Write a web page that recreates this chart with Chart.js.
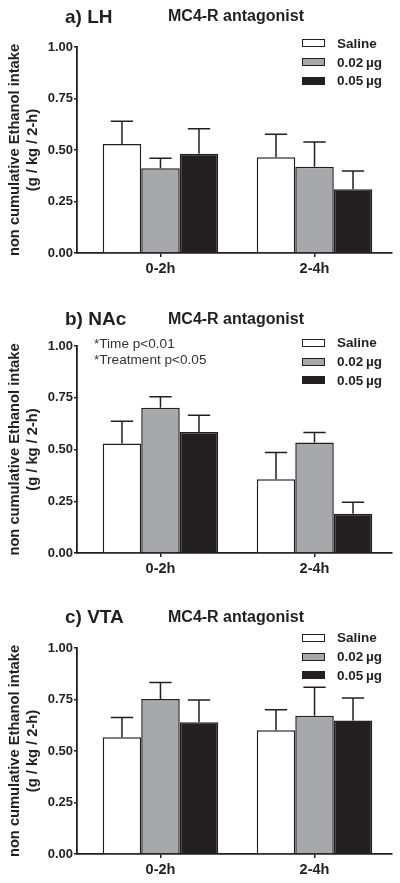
<!DOCTYPE html>
<html>
<head>
<meta charset="utf-8">
<script src="https://cdn.jsdelivr.net/npm/chart.js@4.4.1/dist/chart.umd.min.js"></script>
<style>
  body { margin: 0; background: #fff; font-family: "Liberation Sans", Arial, sans-serif; }
  #wrap { position: relative; width: 400px; height: 883px; overflow: hidden; }
  .panel { position: absolute; left: 0; width: 400px; }
  .panel canvas { position: absolute; left: 0; top: 0; }
  .lbl { position: absolute; font-weight: bold; color: #231f20; white-space: nowrap; line-height: 1; }
  .big { font-size: 19px; }
  .sub { font-size: 16px; }
  .note { position: absolute; font-size: 13.6px; color: #333; line-height: 16px; white-space: nowrap; }
  .legend { position: absolute; left: 302px; }
  .legend div { height: 18.7px; display: flex; align-items: center; font-weight: bold; font-size: 13.5px; color: #231f20; }
  .legend span.box { display: inline-block; width: 21px; height: 6px; border: 1px solid #231f20; margin-right: 12px; }
</style>
</head>
<body>
<div id="wrap"></div>
<script>
const categories = ['0-2h', '2-4h'];
const seriesLabels = ['Saline', '0.02\u2009\u00b5g', '0.05\u2009\u00b5g'];
const seriesColors = ['#ffffff', '#a7a8ab', '#231f20'];
const yTicks = [0, 0.25, 0.5, 0.75, 1];

// a) LH
const lhSaline = [0.529, 0.465];
const lhLow = [0.411, 0.419];
const lhHigh = [0.482, 0.310];
const lhSalineSem = [0.111, 0.112];
const lhLowSem = [0.049, 0.120];
const lhHighSem = [0.121, 0.088];

// b) NAc
const nacSaline = [0.529, 0.356];
const nacLow = [0.702, 0.534];
const nacHigh = [0.585, 0.190];
const nacSalineSem = [0.108, 0.129];
const nacLowSem = [0.053, 0.048];
const nacHighSem = [0.081, 0.055];

// c) VTA
const vtaSaline = [0.567, 0.601];
const vtaLow = [0.752, 0.671];
const vtaHigh = [0.639, 0.648];
const vtaSalineSem = [0.096, 0.099];
const vtaLowSem = [0.081, 0.139];
const vtaHighSem = [0.108, 0.109];

const panels = [
    { titulo: 'a) LH', top: 0, height: 290, areaTop: 47, xHeight: 37, tituloY: 6.5, legendaY: 34,
      medias: [lhSaline, lhLow, lhHigh], erros: [lhSalineSem, lhLowSem, lhHighSem] },
    { titulo: 'b) NAc', top: 290, height: 290, areaTop: 56, xHeight: 27, tituloY: 19, legendaY: 43.5,
      medias: [nacSaline, nacLow, nacHigh], erros: [nacSalineSem, nacLowSem, nacHighSem],
      notas: ['*Time p<0.01', '*Treatment p<0.05'] },
    { titulo: 'c) VTA', top: 580, height: 303, areaTop: 68, xHeight: 29, tituloY: 27, legendaY: 48.5,
      medias: [vtaSaline, vtaLow, vtaHigh], erros: [vtaSalineSem, vtaLowSem, vtaHighSem] }
];

// desenha so a barra de erro superior, com o traco horizontal
const errorBars = {
    id: 'errorBars',
    afterDatasetsDraw(chart) {
        const { ctx, scales: { y } } = chart;
        ctx.save();
        ctx.strokeStyle = '#231f20';
        ctx.lineWidth = 1.5;
        chart.data.datasets.forEach((ds, i) => {
            chart.getDatasetMeta(i).data.forEach((bar, j) => {
                const topo = y.getPixelForValue(ds.data[j].y + ds.sem[j]);
                const meia = bar.width * 0.29;
                ctx.beginPath();
                ctx.moveTo(bar.x, bar.y);
                ctx.lineTo(bar.x, topo);
                ctx.moveTo(bar.x - meia, topo);
                ctx.lineTo(bar.x + meia, topo);
                ctx.stroke();
            });
        });
        ctx.restore();
    }
};

const wrap = document.getElementById('wrap');

panels.forEach(p => {
    const div = document.createElement('div');
    div.className = 'panel';
    div.style.top = p.top + 'px';
    div.style.height = p.height + 'px';
    wrap.appendChild(div);

    const canvas = document.createElement('canvas');
    canvas.width = 400;
    canvas.height = p.height;
    div.appendChild(canvas);

    const t1 = document.createElement('div');
    t1.className = 'lbl big';
    t1.style.left = '65px';
    t1.style.top = p.tituloY + 'px';
    t1.textContent = p.titulo;
    div.appendChild(t1);

    const t2 = document.createElement('div');
    t2.className = 'lbl sub';
    t2.style.left = '168px';
    t2.style.top = (p.tituloY + 1.5) + 'px';
    t2.textContent = 'MC4-R antagonist';
    div.appendChild(t2);

    const leg = document.createElement('div');
    leg.className = 'legend';
    leg.style.top = p.legendaY + 'px';
    seriesLabels.forEach((nome, i) => {
        const linha = document.createElement('div');
        const box = document.createElement('span');
        box.className = 'box';
        box.style.background = seriesColors[i];
        linha.appendChild(box);
        linha.appendChild(document.createTextNode(nome));
        leg.appendChild(linha);
    });
    div.appendChild(leg);

    if (p.notas) {
        const n = document.createElement('div');
        n.className = 'note';
        n.style.left = '94px';
        n.style.top = '46px';
        n.innerHTML = p.notas.map(s => s.replace('<', '&lt;')).join('<br>');
        div.appendChild(n);
    }

    new Chart(canvas, {
        type: 'bar',
        data: {
            datasets: p.medias.map((m, i) => ({
                label: seriesLabels[i],
                data: m.map((v, j) => ({ x: j, y: v })),
                sem: p.erros[i],
                backgroundColor: seriesColors[i],
                borderColor: '#231f20',
                borderWidth: 1.5,
                barPercentage: 1,
                categoryPercentage: 0.75
            }))
        },
        options: {
            responsive: false,
            animation: false,
            layout: { padding: { top: p.areaTop, right: 8, left: 0, bottom: 0 } },
            plugins: { legend: { display: false }, tooltip: { enabled: false } },
            scales: {
                x: {
                    type: 'linear',
                    min: -0.542,
                    max: 1.503,
                    offset: false,
                    afterFit: s => { s.height = p.xHeight; },
                    afterBuildTicks: s => { s.ticks = categories.map((c, j) => ({ value: j })); },
                    grid: { offset: false, drawOnChartArea: false, drawTicks: true, tickLength: 4, color: '#231f20', lineWidth: 1.5 },
                    border: { color: '#231f20', width: 1.8 },
                    ticks: {
                        color: '#231f20',
                        padding: 3.5,
                        font: { family: 'Liberation Sans', size: 14.5, weight: 'bold' },
                        callback: v => categories[v]
                    }
                },
                y: {
                    min: 0,
                    max: 1,
                    afterFit: s => { s.width = 77; },
                    afterBuildTicks: s => { s.ticks = yTicks.map(v => ({ value: v })); },
                    grid: { drawOnChartArea: false, drawTicks: true, tickLength: 3, color: '#231f20', lineWidth: 1.5 },
                    border: { color: '#231f20', width: 1.8 },
                    ticks: {
                        color: '#231f20',
                        padding: 1,
                        font: { family: 'Liberation Sans', size: 13, weight: 'bold' },
                        callback: v => Number(v).toFixed(2)
                    },
                    title: {
                        display: true,
                        text: ['non cumulative Ethanol intake', '(g / kg / 2-h)'],
                        color: '#231f20',
                        padding: { top: 6.6, bottom: 0 },
                        font: { family: 'Liberation Sans', size: 14.7, weight: 'bold', lineHeight: 1.2 }
                    }
                }
            }
        },
        plugins: [errorBars]
    });
});
</script>
</body>
</html>
